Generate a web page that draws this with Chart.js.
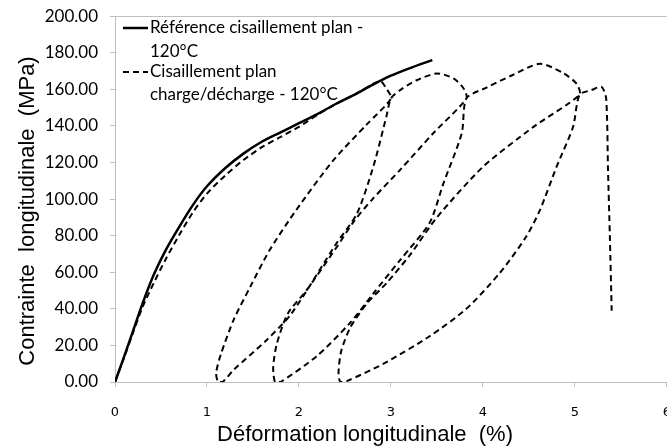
<!DOCTYPE html>
<html>
<head>
<meta charset="utf-8">
<script src="https://cdn.jsdelivr.net/npm/chart.js@4.4.0/dist/chart.umd.min.js"></script>
<style>
    html, body { margin: 0; padding: 0; overflow: hidden; background: #fff; }
    canvas { display: block; margin-top: -6px; }
</style>
</head>
<body>
<canvas id="grapheCisaillement" width="689" height="454"></canvas>
<script>
// Courbe de référence (traction monotone)
const refDeformation = [0, 0.1, 0.2, 0.3, 0.42, 0.55, 0.7, 0.85, 1.0, 1.2, 1.4, 1.6, 1.8, 2.0, 2.2, 2.4, 2.6, 2.8, 3.0, 3.2, 3.45];
const refContrainte  = [0, 14, 28.5, 43, 58.5, 72, 85, 97, 107, 117, 125, 131.5, 136.5, 141.5, 146.5, 152, 157, 162.5, 167.5, 171.5, 176];

// Essai charge/décharge, segment par segment
const chargeDeformation = [0, 0.1, 0.2, 0.3, 0.42, 0.55, 0.7, 0.85, 1.0, 1.2, 1.4, 1.6, 1.8, 2.0, 2.2, 2.4, 2.6, 2.88, 2.95, 3.0];
const chargeContrainte  = [0, 13.5, 27.5, 41, 54, 67, 80.5, 93, 103, 113, 121.5, 128.5, 134, 139.5, 146, 152, 157, 164.5, 160.5, 155];

const cycle1Deformation = [2.74, 2.37, 1.97, 1.68, 1.47, 1.29, 1.15, 1.1, 1.12, 1.17, 1.29, 1.65, 1.92, 2.41, 2.63, 2.81, 2.95, 3.0, 3.1, 3.28, 3.5, 3.68, 3.79, 3.82];
const cycle1Contrainte  = [141, 121, 94, 72, 52, 34, 15, 5, 0, 0, 6.6, 23, 37.5, 76, 92, 118, 145, 155, 159.6, 165, 168.7, 166, 160.5, 155];

const cycle2Deformation = [3.46, 3.1, 2.8, 2.6, 2.4, 2.08, 1.88, 1.76, 1.72, 1.74, 1.8, 2.19, 2.55, 2.81, 3.1, 3.42, 3.57, 3.77, 3.82, 4.04, 4.33, 4.62, 4.87, 5.02, 5.05];
const cycle2Contrainte  = [136, 116, 100, 88, 73, 50, 37.5, 21, 8, 0, 0, 14, 32, 48.5, 66.7, 87, 108.5, 136, 155, 161, 168, 174, 169, 163, 157];

const cycle3Deformation = [4.55, 4.0, 3.5, 3.2, 2.95, 2.74, 2.56, 2.46, 2.43, 2.45, 2.52, 2.92, 3.42, 3.82, 4.18, 4.47, 4.62, 4.8, 4.98, 5.05];
const cycle3Contrainte  = [139.5, 117.6, 90, 69, 54, 43, 30, 17, 5, 0, 0.5, 10, 25, 40, 59.4, 79.4, 94, 117.6, 139.5, 157];

const ruptureDeformation = [5.18, 5.29, 5.34, 5.36, 5.38, 5.4];
const ruptureContrainte  = [159.6, 161.4, 155, 116, 80, 39];

const libelleReference = ["Référence cisaillement plan -", "120°C"];
const libelleCycles = ["Cisaillement plan", "charge/décharge - 120°C"];
const titreX = "Déformation longitudinale  (%)";
const titreY = "Contrainte  longitudinale  (MPa)";

// le canvas est remonté de 6 px (marge CSS), on compense dans les plugins
const decalage = 6;

function versPoints(xs, ys) {
    return xs.map((x, i) => ({ x: x, y: ys[i] }));
}

const cyclesPoints = [].concat(
    versPoints(chargeDeformation, chargeContrainte),
    versPoints(cycle1Deformation, cycle1Contrainte),
    versPoints(cycle2Deformation, cycle2Contrainte),
    versPoints(cycle3Deformation, cycle3Contrainte),
    versPoints(ruptureDeformation, ruptureContrainte)
);

// légende dessinée dans la zone du graphe, en haut à gauche
const legendeInterne = {
    id: 'legendeInterne',
    afterDraw(chart) {
        const c = chart.ctx;
        const lignesY = [[28, 52], [72, 95]];
        c.save();
        c.translate(0, decalage);
        c.font = '17px Lato';
        c.fillStyle = '#000';
        c.textBaseline = 'middle';
        chart.data.datasets.forEach((ds, i) => {
            const y0 = lignesY[i][0];
            c.beginPath();
            c.strokeStyle = ds.borderColor;
            c.lineWidth = ds.borderWidth;
            c.setLineDash(ds.borderDash || []);
            c.moveTo(123, y0);
            c.lineTo(148, y0);
            c.stroke();
            c.setLineDash([]);
            ds.label.forEach((txt, j) => c.fillText(txt, 150, lignesY[i][j]));
        });
        c.restore();
    }
};

// titres des axes (placés comme dans l'original)
const titresAxes = {
    id: 'titresAxes',
    afterDraw(chart) {
        const c = chart.ctx;
        c.save();
        c.translate(0, decalage);
        c.font = '22px "Liberation Sans"';
        c.fillStyle = '#000';
        c.textAlign = 'center';
        c.textBaseline = 'middle';
        c.fillText(titreX, 365, 435);
        c.translate(28, 211);
        c.rotate(-Math.PI / 2);
        c.fillText(titreY, 0, 0);
        c.restore();
    }
};

const ctx = document.getElementById('grapheCisaillement').getContext('2d');
new Chart(ctx, {
    type: 'scatter',
    data: {
        datasets: [
            {
                label: libelleReference,
                data: versPoints(refDeformation, refContrainte),
                showLine: true,
                borderColor: '#000',
                borderWidth: 2.5,
                pointRadius: 0,
                tension: 0.3
            },
            {
                label: libelleCycles,
                data: cyclesPoints,
                showLine: true,
                borderColor: '#000',
                borderWidth: 2,
                borderDash: [6, 4],
                pointRadius: 0,
                tension: 0.25
            }
        ]
    },
    options: {
        responsive: false,
        animation: false,
        devicePixelRatio: 1,
        layout: { padding: { top: 16, right: 13, left: 0, bottom: 0 } },
        plugins: {
            legend: { display: false },
            tooltip: { enabled: false }
        },
        scales: {
            x: {
                type: 'linear',
                min: 0,
                max: 6,
                ticks: { stepSize: 1, color: '#000', padding: 18, font: { family: 'DejaVu Sans', size: 13 } },
                border: { color: '#bfbfbf', width: 1 },
                grid: { drawOnChartArea: false, tickLength: 5, color: '#bfbfbf' },
                afterFit: (s) => { s.height = 66; }
            },
            y: {
                min: 0,
                max: 200,
                ticks: {
                    stepSize: 20,
                    color: '#000',
                    padding: 12,
                    font: { family: 'Lato', size: 17 },
                    callback: (v) => v.toFixed(2)
                },
                border: { color: '#bfbfbf', width: 1 },
                grid: {
                    tickLength: 5,
                    tickColor: '#bfbfbf',
                    color: (c) => (c.tick && c.tick.value === 200 ? '#bfbfbf' : 'rgba(0,0,0,0)')
                },
                afterFit: (s) => { s.width = 115; }
            }
        }
    },
    plugins: [legendeInterne, titresAxes]
});
</script>
</body>
</html>
